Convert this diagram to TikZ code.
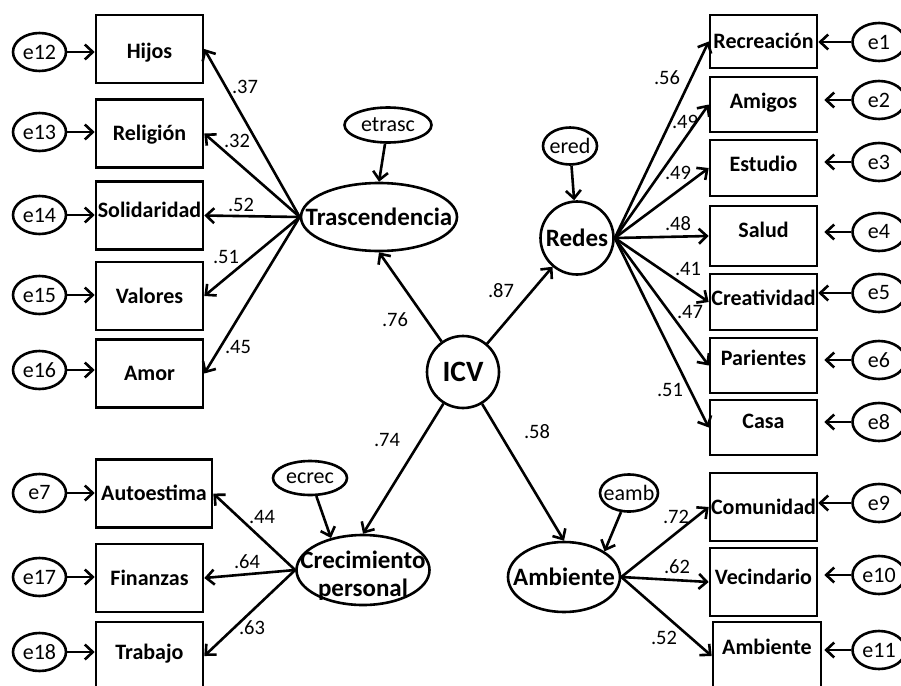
\documentclass[tikz,border=0pt]{standalone}
\usepackage{fontspec}
\setmainfont{Carlito}
\usetikzlibrary{shapes, arrows.meta, calc, positioning}
\newcommand{\zw}[1]{\makebox[0pt]{#1}}

\begin{document}
\begin{tikzpicture}[x=1pt, y=-1pt, >={Straight Barb[length=8pt, width=15pt]}, line width=2.6pt,
  ind/.style={draw, rectangle, inner sep=0pt, minimum width=107pt, minimum height=68pt, text height=14pt, text depth=0pt, font=\fontsize{22}{24}\selectfont\bfseries},
  err/.style={draw, ellipse, inner sep=0pt, minimum width=53pt, minimum height=38pt, font=\fontsize{22}{24}\selectfont},
  lat/.style={draw, ellipse, inner sep=0pt, font=\fontsize{25}{28}\selectfont\bfseries},
  coef/.style={inner sep=0pt, font=\fontsize{20.5}{22}\selectfont}]
\useasboundingbox (0,0) rectangle (901,685);

\node[draw, circle, inner sep=0pt, minimum size=72pt, font=\fontsize{29.5}{32}\selectfont\bfseries] (icv) at (463,372) {ICV};

\node[lat, minimum width=156pt, minimum height=68pt] (trasc) at (379,217) {\zw{Trascendencia}};
\node[lat, circle, minimum size=73pt] (redes) at (577,238) {\zw{Redes}};
\node[lat, minimum width=133pt, minimum height=70pt] (crec) at (363,570) {\zw{\raisebox{-13pt}[0pt][0pt]{\begin{tabular}{@{}c@{}}Crecimiento\\personal\end{tabular}}}};
\node[lat, minimum width=112pt, minimum height=70pt] (amb) at (564,577) {\zw{Ambiente}};

\node[err, minimum width=87pt, minimum height=35pt] (etrasc) at (388,125) {\zw{etrasc}};
\node[err, minimum width=54pt, minimum height=37pt] (ered) at (570,146) {\zw{ered}};
\node[err, minimum width=74pt, minimum height=34pt] (ecrec) at (310,478) {\zw{ecrec}};
\node[err, minimum width=58pt, minimum height=37pt] (eamb) at (629,493) {\zw{eamb}};

\node[ind, text height=20pt] (hijos) at (149.5,49) {Hijos};
\node[ind] (relig) at (149.5,133.5) {Religión};
\node[ind, text depth=10pt] (solid) at (149.5,215.5) {Solidaridad};
\node[ind] (valor) at (149.5,296) {Valores};
\node[ind] (amor) at (149.5,373.5) {Amor};
\node[ind, minimum width=116pt] (autoe) at (154,493.5) {Autoestima};
\node[ind] (finan) at (149.5,578) {Finanzas};
\node[ind, text depth=8pt] (trab) at (149.5,656) {Trabajo};

\node[ind, minimum height=53pt] (recre) at (763.5,41.5) {Recreación};
\node[ind, minimum height=55pt, text depth=6pt] (amig) at (763.5,104.5) {Amigos};
\node[ind, minimum height=56pt, text depth=8pt] (estud) at (763.5,168) {Estudio};
\node[ind, minimum height=60pt, text depth=12pt] (salud) at (763.5,236) {Salud};
\node[ind, minimum height=56pt, text depth=8pt] (creat) at (763.5,302) {Creatividad};
\node[ind, minimum height=55pt, text depth=14pt] (parie) at (763.5,365.5) {Parientes};
\node[ind, minimum height=55pt, text depth=12pt] (casa) at (763.5,427.5) {Casa};
\node[ind] (comun) at (763.5,507) {Comunidad};
\node[ind, text depth=10pt] (vecin) at (763.5,582) {Vecindario};
\node[ind, minimum width=108pt, text depth=18pt] (ambi) at (767,656) {Ambiente};

\node[err] (e12) at (39.5,52) {e12};
\node[err] (e13) at (39.5,132) {e13};
\node[err] (e14) at (39.5,215) {e14};
\node[err] (e15) at (39.5,295) {e15};
\node[err] (e16) at (39.5,370) {e16};
\node[err] (e7) at (39.5,493) {e7};
\node[err] (e17) at (39.5,577) {e17};
\node[err] (e18) at (39.5,652) {e18};

\node[err] (e1) at (879,42) {e1};
\node[err] (e2) at (879,100) {e2};
\node[err] (e3) at (879,162) {e3};
\node[err] (e4) at (879,232) {e4};
\node[err] (e5) at (879,293) {e5};
\node[err] (e6) at (879,360) {e6};
\node[err] (e8) at (879,422) {e8};
\node[err] (e9) at (879,503) {e9};
\node[err] (e10) at (879,575) {e10};
\node[err] (e11) at (879,650) {e11};

\draw[->] (icv) -- (trasc.south);
\draw[->] (icv) -- (redes);
\draw[->] (icv) -- (crec.north);
\draw[->] (icv) -- (amb.north);

\draw[->] (etrasc) -- (trasc.north);
\draw[->] (ered) -- (redes);
\draw[->] (ecrec) -- (crec.135);
\draw[->] (eamb) -- (amb.north east);

\draw[->] (trasc.west) -- (hijos.east);
\draw[->] (trasc.west) -- (relig.east);
\draw[->] (trasc.west) -- (solid.east);
\draw[->] (trasc.west) -- (valor.east);
\draw[->] (trasc.west) -- (amor.east);

\draw[->] (crec.west) -- (autoe.east);
\draw[->] (crec.west) -- (finan.east);
\draw[->] (crec.west) -- (trab.east);

\draw[->] (redes.east) -- (recre.west);
\draw[->] (redes.east) -- (amig.west);
\draw[->] (redes.east) -- (estud.west);
\draw[->] (redes.east) -- (salud.west);
\draw[->] (redes.east) -- (creat.west);
\draw[->] (redes.east) -- (parie.west);
\draw[->] (redes.east) -- (casa.west);

\draw[->] (amb.east) -- (comun.west);
\draw[->] (amb.east) -- (vecin.west);
\draw[->] (amb.east) -- (ambi.west);

\draw[->] (e12.east) -- (e12 -| hijos.west);
\draw[->] (e13.east) -- (e13 -| relig.west);
\draw[->] (e14.east) -- (e14 -| solid.west);
\draw[->] (e15.east) -- (e15 -| valor.west);
\draw[->] (e16.east) -- (e16 -| amor.west);
\draw[->] (e7.east) -- (e7 -| autoe.west);
\draw[->] (e17.east) -- (e17 -| finan.west);
\draw[->] (e18.east) -- (e18 -| trab.west);

\draw[->] (e1.west) -- (e1 -| recre.east);
\draw[->, shorten >=6pt] (e2.west) -- (e2 -| amig.east);
\draw[->, shorten >=6pt] (e3.west) -- (e3 -| estud.east);
\draw[->, shorten >=6pt] (e4.west) -- (e4 -| salud.east);
\draw[->] (e5.west) -- (e5 -| creat.east);
\draw[->, shorten >=6pt] (e6.west) -- (e6 -| parie.east);
\draw[->, shorten >=6pt] (e8.west) -- (e8 -| casa.east);
\draw[->] (e9.west) -- (e9 -| comun.east);
\draw[->, shorten >=6pt] (e10.west) -- (e10 -| vecin.east);
\draw[->, shorten >=2pt] (e11.west) -- (e11 -| ambi.east);

\node[coef] (c-hijos) at (245,87) {.37};
\node[coef] (c-relig) at (237,141) {.32};
\node[coef] (c-solid) at (241,205) {.52};
\node[coef] (c-valor) at (226,257) {.51};
\node[coef] (c-amor) at (238,347) {.45};
\node[coef] (c-trasc) at (395,320) {.76};
\node[coef] (c-redes) at (501,291) {.87};
\node[coef] (c-crec) at (387,440) {.74};
\node[coef] (c-amb) at (537,432) {.58};
\node[coef] (c-autoe) at (262,517) {.44};
\node[coef] (c-finan) at (247,562) {.64};
\node[coef] (c-trab) at (252,628) {.63};
\node[coef] (c-recre) at (667,78) {.56};
\node[coef] (c-amig) at (685,122) {.49};
\node[coef] (c-estud) at (678,173) {.49};
\node[coef] (c-salud) at (678,224) {.48};
\node[coef] (c-creat) at (688,269) {.41};
\node[coef] (c-parie) at (690,312) {.47};
\node[coef] (c-casa) at (670,390) {.51};
\node[coef] (c-comun) at (676,517) {.72};
\node[coef] (c-vecin) at (677,567) {.62};
\node[coef] (c-ambi) at (664,638) {.52};
\end{tikzpicture}
\end{document}
